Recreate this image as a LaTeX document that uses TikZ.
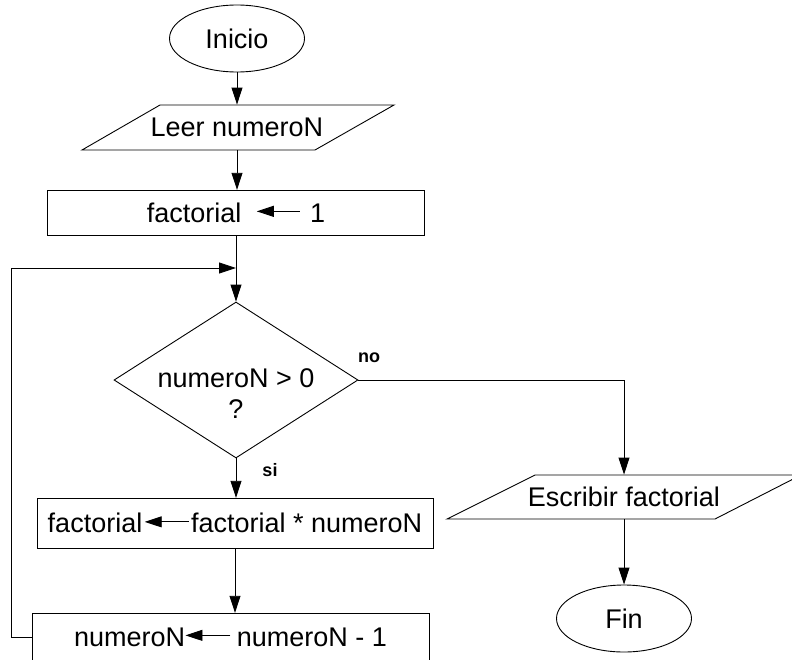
\documentclass[tikz,border=0pt]{standalone}
\usepackage{fontspec}
\setmainfont{Liberation Sans}
\usetikzlibrary{shapes.geometric,arrows.meta,calc}

% small assignment arrow used inside the process boxes
\newcommand{\asgnarrow}[1]{\tikz[baseline=0pt]\draw[line width=0.9pt,-{Triangle[length=17pt,width=11pt]}] (#1pt,0.4em) -- (0pt,0.4em);}

\begin{document}
\begin{tikzpicture}[x=1pt,y=-1pt,
  line width=0.9pt,
  every node/.style={font=\fontsize{27}{31}\selectfont},
  flow/.style={-{Triangle[length=17pt,width=11pt]}},
  terminal/.style={ellipse,draw,minimum width=135pt,minimum height=67pt,inner sep=0pt},
  process/.style={rectangle,draw,inner sep=0pt},
  iobox/.style={rectangle,inner sep=0pt,minimum height=44pt},
  decision/.style={diamond,draw,minimum width=244pt,minimum height=156pt,inner sep=0pt},
  branch/.style={font=\fontsize{18}{20}\selectfont\bfseries}
]
\useasboundingbox (0,0) rectangle (792,659);

% start
\node[terminal] (inicio) at (237,38.5) {Inicio};

% input
\node[iobox,minimum width=200pt,minimum height=45pt] (leer) at (237,127.5) {Leer numeroN};
\draw ($(leer.center)+(-77,-22.5)$) -- ($(leer.center)+(157,-22.5)$)
   -- ($(leer.center)+(78,22.5)$) -- ($(leer.center)+(-155,22.5)$) -- cycle;

% initialisation
\node[process,minimum width=377pt,minimum height=45pt] (init) at (236,212.5)
  {factorial\hspace{15pt}\asgnarrow{43}\hspace{10pt}1};

\coordinate (join) at (236,268);

% loop condition
\node[decision,label={[yshift=-14pt,align=center]center:numeroN > 0\\?}] (cond) at (236,380) {};

% loop body
\node[process,minimum width=396pt,minimum height=50pt] (mult) at (235,523)
  {factorial\hspace{2pt}\asgnarrow{44}\hspace{2pt}factorial * numeroN};
\node[process,minimum width=397pt,minimum height=48pt] (dec) at (230.5,637)
  {numeroN\asgnarrow{45}\hspace{6pt}numeroN - 1};

% output
\node[iobox,minimum width=180pt] (escribir) at (624,497) {Escribir factorial};
\draw ($(escribir.center)+(-89,-22)$) -- ($(escribir.center)+(177,-22)$)
   -- ($(escribir.center)+(91,22)$) -- ($(escribir.center)+(-177,22)$) -- cycle;

% end
\node[terminal] (fin) at (624,618.5) {Fin};

% branch labels
\node[branch] (nolbl) at (369,358) {no};
\node[branch] (silbl) at (270,470) {si};

% connectors
\draw[flow] (inicio.south) -- (leer.north);
\draw[flow] (leer.south) -- (leer.south |- init.north);
\draw (init.south -| join) -- (join);
\draw[flow] (join) -- (cond.north);
\draw[flow] (dec.west) -- ++(-20.5,0) |- (join);
\draw[flow] (cond.south) -- (cond.south |- mult.north);
\draw[flow] (mult.south) -- (mult.south |- dec.north);
\draw[flow] (cond.east) -| (escribir.north);
\draw[flow] (escribir.south) -- (escribir.south |- fin.north);
\end{tikzpicture}
\end{document}
